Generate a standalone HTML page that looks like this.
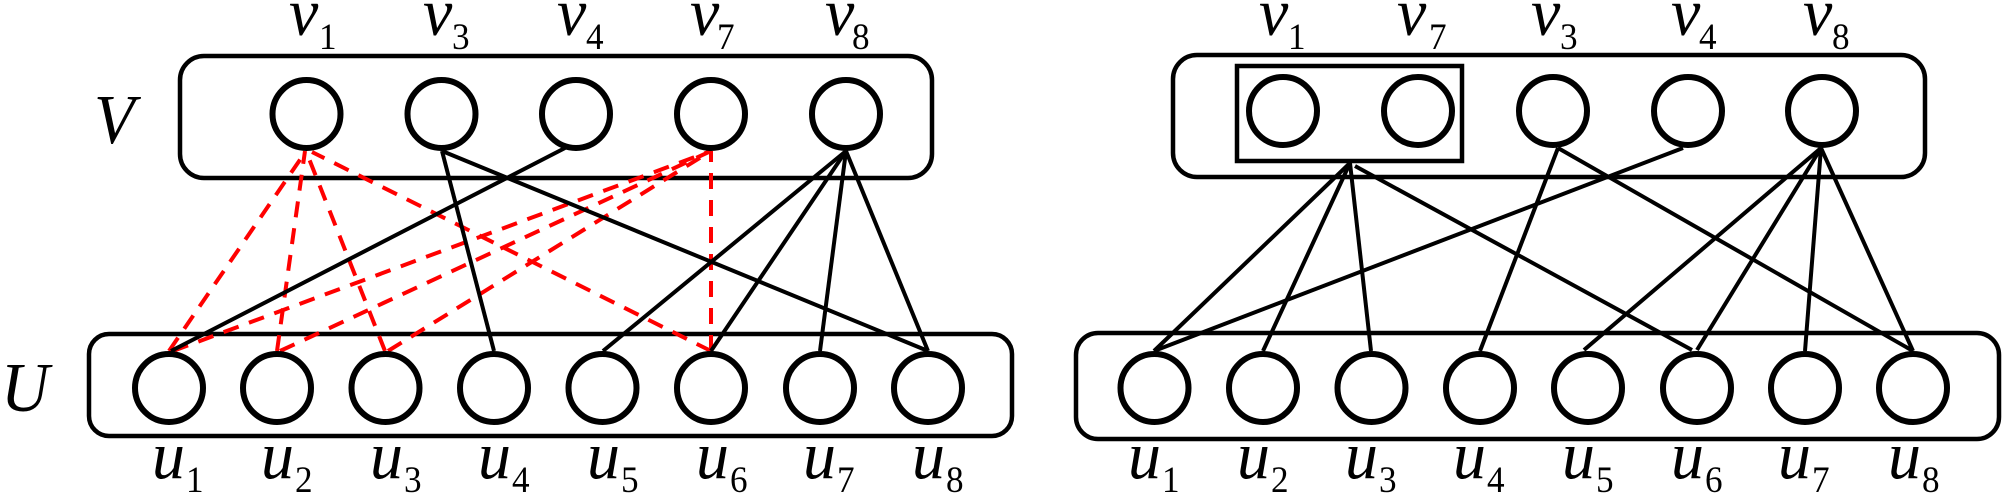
<!DOCTYPE html>
<html><head><meta charset="utf-8"><style>
html,body{margin:0;padding:0;background:#fff;width:2008px;height:496px;overflow:hidden}
svg{display:block}
text{font-family:"Liberation Serif",serif;fill:#000;transform-box:fill-box;transform-origin:0 100%}
.m{font-style:italic;font-size:68px;transform:scaleX(.97)}
.c{font-style:italic;font-size:70px;transform:scaleX(.95)}
.s,.t{font-size:37px;transform:scaleX(.95)}
.b{fill:none;stroke:#000;stroke-width:4.500}
.n{fill:none;stroke:#000;stroke-width:6}
.l{stroke:#000;stroke-width:4;fill:none}
.r{stroke:#f00;stroke-width:4;fill:none;stroke-dasharray:16 11}
</style></head><body>
<svg width="2008" height="496" viewBox="0 0 2008 496" xmlns="http://www.w3.org/2000/svg">
<!-- left -->
<rect class="b" x="180" y="56" width="752" height="122" rx="24"/>
<rect class="b" x="89" y="334" width="923" height="102" rx="20"/>
<g class="r">
<line x2="306" y2="151" x1="169" y1="351"/><line x2="305" y2="151" x1="277" y1="351"/><line x2="306" y2="151" x1="385" y1="351"/><line x2="312" y2="152" x1="711" y1="351"/>
<line x2="711" y2="151" x1="173" y1="351"/><line x2="711" y2="151" x1="280" y1="351"/><line x2="711" y2="151" x1="388" y1="351"/><line x2="711" y2="151" x1="711" y1="351"/>
</g>
<g class="l">
<line x1="442" y1="151" x2="494" y2="351"/><line x1="442" y1="151" x2="928" y2="351"/><line x1="565" y1="148" x2="171" y2="351"/>
<line x1="846" y1="151" x2="603" y2="351"/><line x1="846" y1="151" x2="711" y2="351"/><line x1="846" y1="151" x2="820" y2="351"/><line x1="846" y1="151" x2="928" y2="351"/>
</g>
<g class="n">
<circle cx="306.500" cy="114" r="34"/><circle cx="441.500" cy="114" r="34"/><circle cx="576" cy="114" r="34"/><circle cx="711" cy="114" r="34"/><circle cx="846" cy="114" r="34"/>
<circle cx="169" cy="388" r="34"/><circle cx="277" cy="388" r="34"/><circle cx="385.500" cy="388" r="34"/><circle cx="494" cy="388" r="34"/><circle cx="602.500" cy="388" r="34"/><circle cx="711" cy="388" r="34"/><circle cx="820" cy="388" r="34"/><circle cx="928" cy="388" r="34"/>
</g>
<text class="c" x="94" y="143">V</text>
<text class="c" x="1" y="411">U</text>
<text class="m" x="289" y="35">v</text><text class="s" x="319" y="49">1</text>
<text class="m" x="423" y="35">v</text><text class="s" x="452" y="49">3</text>
<text class="m" x="557" y="35">v</text><text class="s" x="586" y="49">4</text>
<text class="m" x="690" y="35">v</text><text class="s" x="717" y="49">7</text>
<text class="m" x="825" y="35">v</text><text class="s" x="852" y="49">8</text>
<text class="m" x="152" y="478">u</text><text class="t" x="186" y="492">1</text>
<text class="m" x="261" y="478">u</text><text class="t" x="295" y="492">2</text>
<text class="m" x="370" y="478">u</text><text class="t" x="404" y="492">3</text>
<text class="m" x="478" y="478">u</text><text class="t" x="512" y="492">4</text>
<text class="m" x="587" y="478">u</text><text class="t" x="621" y="492">5</text>
<text class="m" x="696" y="478">u</text><text class="t" x="730" y="492">6</text>
<text class="m" x="803" y="478">u</text><text class="t" x="837" y="492">7</text>
<text class="m" x="912" y="478">u</text><text class="t" x="946" y="492">8</text>
<!-- right -->
<rect class="b" x="1173" y="55" width="752" height="122" rx="24"/>
<rect class="b" x="1076" y="333" width="923" height="106" rx="22"/>
<rect class="b" x="1237" y="66" width="225" height="95"/>
<g class="l">
<line x1="1350" y1="163" x2="1154" y2="351"/><line x1="1350" y1="163" x2="1263" y2="351"/><line x1="1350" y1="163" x2="1371" y2="351"/><line x1="1355" y1="166" x2="1692" y2="350"/>
<line x1="1558" y1="148" x2="1480" y2="351"/><line x1="1558" y1="148" x2="1913" y2="351"/><line x1="1683" y1="148" x2="1154" y2="351"/>
<line x1="1821" y1="148" x2="1584" y2="350"/><line x1="1821" y1="148" x2="1697" y2="350"/><line x1="1821" y1="148" x2="1805" y2="351"/><line x1="1821" y1="148" x2="1913" y2="351"/>
</g>
<g class="n">
<circle cx="1283" cy="111" r="34"/><circle cx="1418" cy="111" r="34"/><circle cx="1553" cy="111" r="34"/><circle cx="1688" cy="111" r="34"/><circle cx="1822" cy="111" r="34"/>
<circle cx="1154.500" cy="388" r="34"/><circle cx="1263" cy="388" r="34"/><circle cx="1371.500" cy="388" r="34"/><circle cx="1480" cy="388" r="34"/><circle cx="1588" cy="388" r="34"/><circle cx="1697" cy="388" r="34"/><circle cx="1805" cy="388" r="34"/><circle cx="1913" cy="388" r="34"/>
</g>
<text class="m" x="1259" y="35">v</text><text class="s" x="1288" y="49">1</text>
<text class="m" x="1397" y="35">v</text><text class="s" x="1429" y="49">7</text>
<text class="m" x="1531" y="35">v</text><text class="s" x="1560" y="49">3</text>
<text class="m" x="1671" y="35">v</text><text class="s" x="1699" y="49">4</text>
<text class="m" x="1803" y="35">v</text><text class="s" x="1832" y="49">8</text>
<text class="m" x="1128" y="478">u</text><text class="t" x="1162" y="492">1</text>
<text class="m" x="1237" y="478">u</text><text class="t" x="1271" y="492">2</text>
<text class="m" x="1345" y="478">u</text><text class="t" x="1379" y="492">3</text>
<text class="m" x="1453" y="478">u</text><text class="t" x="1487" y="492">4</text>
<text class="m" x="1562" y="478">u</text><text class="t" x="1596" y="492">5</text>
<text class="m" x="1671" y="478">u</text><text class="t" x="1705" y="492">6</text>
<text class="m" x="1778" y="478">u</text><text class="t" x="1812" y="492">7</text>
<text class="m" x="1888" y="478">u</text><text class="t" x="1922" y="492">8</text>
</svg>
</body></html>
